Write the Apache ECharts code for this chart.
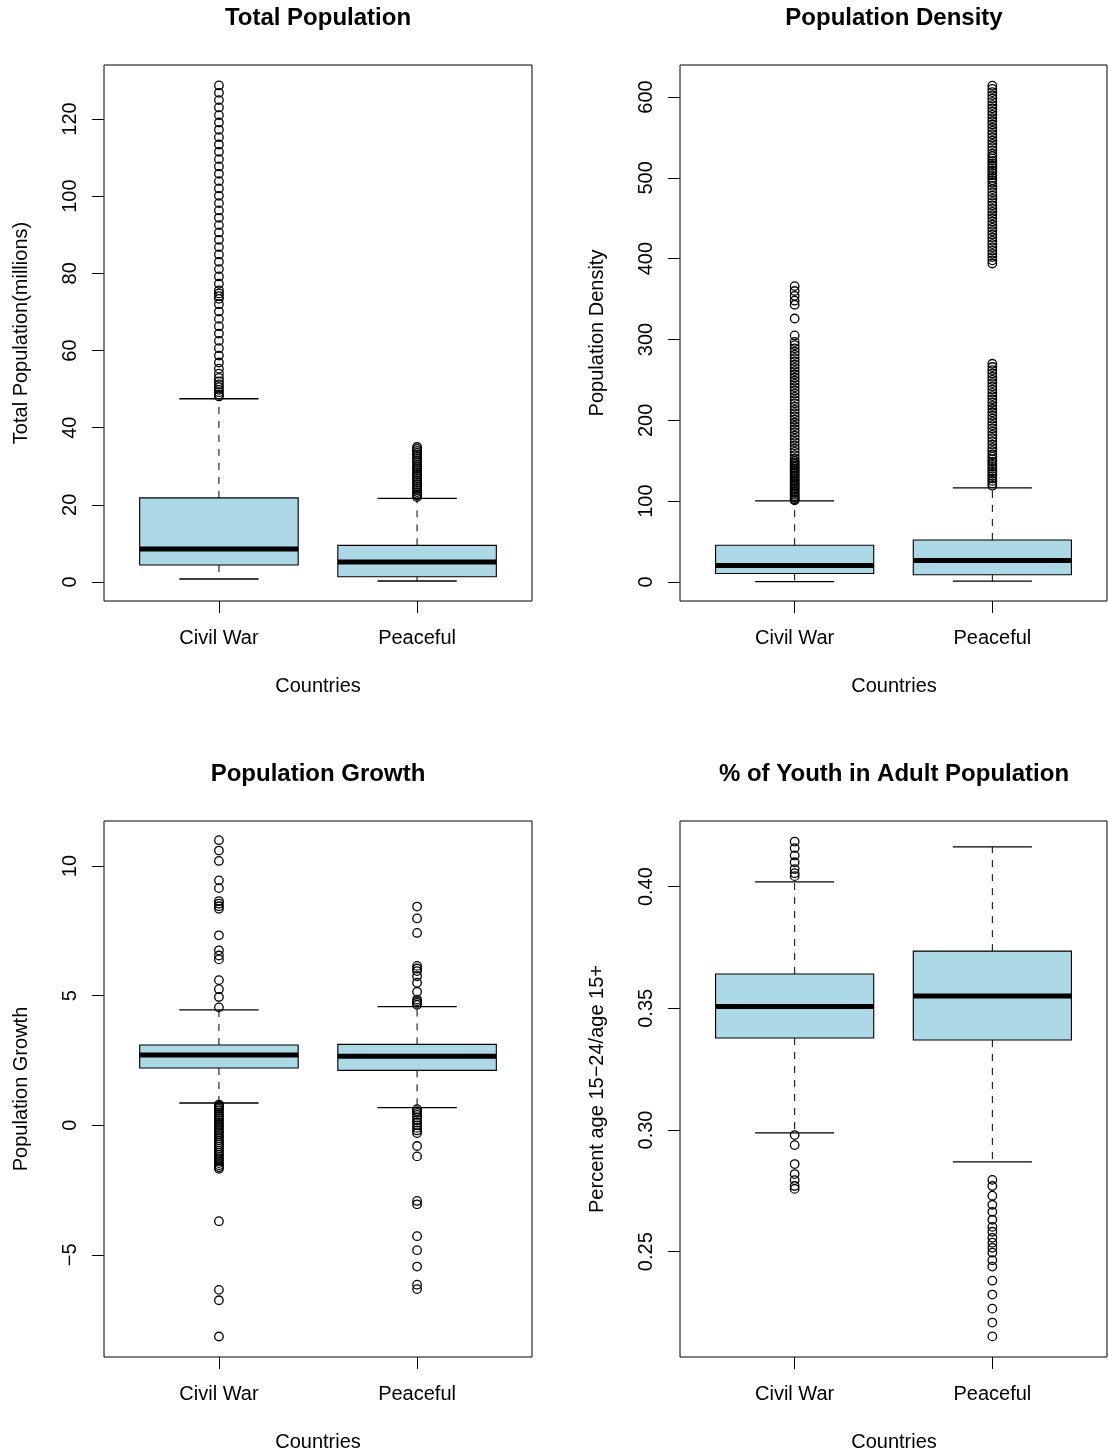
<!DOCTYPE html>
<html>
<head>
<meta charset="utf-8">
<script src="https://cdn.jsdelivr.net/npm/echarts@6/dist/echarts.min.js"></script>
<style>
html,body{margin:0;padding:0;background:#fff;}
#chart{width:1108px;height:1453px;}
</style>
</head>
<body>
<div id="chart"></div>
<script>
// ---------- data ----------
const categories = ['Civil War', 'Peaceful'];
const panelTitles = ['Total Population', 'Population Density', 'Population Growth', '% of Youth in Adult Population'];
const yNames = ['Total Population(millions)', 'Population Density', 'Population Growth', 'Percent age 15\u221224/age 15+'];
const xName = 'Countries';

// box stats: [lower whisker, Q1, median, Q3, upper whisker]
const popStats = [[0.78, 4.4, 8.55, 21.8, 47.5], [0.26, 1.35, 5.2, 9.5, 21.7]];
const popOutCivil = [128.7, 126.8, 124.9, 123.0, 121.0, 119.1, 117.2, 115.3, 113.4, 111.5, 109.6, 107.7, 105.8, 103.9, 102.0, 100.1, 98.2, 96.3, 94.4, 92.5, 90.6, 88.7, 86.8, 84.9, 83.0, 81.1, 79.2, 77.3, 75.6, 74.8, 74.1, 73.4, 72.0, 70.1, 68.2, 66.3, 64.4, 62.5, 60.6, 58.7, 56.9, 55.3, 54.0, 52.9, 52.0, 51.2, 50.5, 49.8, 49.2, 48.6, 48.1];
const popOutPeace = [35.0, 34.5, 34.0, 33.5, 33.0, 32.5, 32.0, 31.4, 30.9, 30.3, 29.8, 29.3, 28.8, 28.3, 27.8, 27.3, 26.8, 26.3, 25.8, 25.3, 24.8, 24.3, 23.8, 23.3, 22.8, 22.4, 22.0];
const popTicks = [0, 20, 40, 60, 80, 100, 120];

const denStats = [[0.4, 10.5, 20.5, 45.5, 100.3], [1.0, 9.0, 26.5, 52.0, 116.5]];
const denOutCivil = [366, 360, 354, 348, 343, 326, 305, 297, 293, 289, 285, 281, 277, 273, 269, 265, 261, 257, 253, 249, 245, 241, 237, 233, 229, 225, 221, 217, 213, 209, 205, 201, 197, 193, 189, 185, 181, 177, 173, 169, 165, 161, 157, 153, 150, 148, 146, 144, 142, 140, 138, 136, 134, 132, 130, 128, 126, 124, 122, 120, 118, 116, 114, 112, 110, 108, 106, 104, 102, 101];
const denOutPeace = [614, 610, 606, 602, 598, 594, 590, 586, 582, 578, 574, 570, 566, 562, 558, 554, 550, 546, 542, 538, 534, 530, 527, 524, 521, 518, 515, 512, 509, 506, 503, 500, 497, 494, 490, 486, 482, 478, 474, 470, 466, 462, 458, 454, 450, 446, 442, 438, 434, 430, 426, 422, 418, 414, 410, 406, 402, 398, 394,
  270, 266, 262, 258, 254, 250, 246, 242, 238, 234, 230, 226, 222, 218, 214, 210, 206, 202, 198, 194, 190, 186, 182, 178, 174, 170, 166, 162, 158, 155, 152, 149, 146, 143, 140, 137, 134, 131, 128, 125, 122, 119];
const denTicks = [0, 100, 200, 300, 400, 500, 600];

const grwStats = [[0.86, 2.21, 2.71, 3.10, 4.45], [0.68, 2.12, 2.66, 3.12, 4.58]];
const grwOutCivil = [11.0, 10.6, 10.2, 9.45, 9.15, 8.65, 8.55, 8.45, 8.35, 7.33, 6.75, 6.55, 6.4, 5.6, 5.25, 4.95, 4.55,
  0.80, 0.75, 0.70, 0.65, 0.58, 0.50, 0.42, 0.35, 0.28, 0.20, 0.12, 0.05, -0.02, -0.10, -0.18, -0.26, -0.34, -0.42, -0.50, -0.58, -0.66, -0.74, -0.82, -0.90, -0.98, -1.06, -1.14, -1.22, -1.30, -1.38, -1.46, -1.54, -1.62, -1.68, -3.7, -6.35, -6.75, -8.15];
const grwOutPeace = [8.44, 7.98, 7.42, 6.15, 6.05, 5.95, 5.75, 5.5, 5.15, 4.85, 4.78, 4.72, 4.65,
  0.62, 0.55, 0.48, 0.40, 0.30, 0.20, 0.10, 0.0, -0.10, -0.20, -0.30, -0.8, -1.2, -2.92, -3.05, -4.28, -4.82, -5.45, -6.15, -6.32];
const grwTicks = [-5, 0, 5, 10];

const ythStats = [[0.2988, 0.3378, 0.3507, 0.3641, 0.4019], [0.2869, 0.3370, 0.3551, 0.3735, 0.4163]];
const ythOutCivil = [0.4185, 0.4158, 0.4128, 0.4100, 0.4072, 0.4055, 0.4043, 0.2979, 0.2938, 0.2860, 0.2819, 0.2794, 0.2770, 0.2758];
const ythOutPeace = [0.2795, 0.2770, 0.2730, 0.2693, 0.2664, 0.2631, 0.2602, 0.2582, 0.2557, 0.2537, 0.2516, 0.2496, 0.2465, 0.2439, 0.2381, 0.2324, 0.2266, 0.2209, 0.2152];
const ythTicks = [0.25, 0.30, 0.35, 0.40];

// ---------- layout ----------
const FONT = 'Liberation Sans, Arial, Helvetica, sans-serif';
const panels = [
  {left: 104, top: 65, stats: popStats, outC: popOutCivil, outP: popOutPeace, ticks: popTicks, min: -4.92, max: 134.0, fmt: v => String(v)},
  {left: 680, top: 65, stats: denStats, outC: denOutCivil, outP: denOutPeace, ticks: denTicks, min: -23.5, max: 639.6, fmt: v => String(v)},
  {left: 104, top: 821, stats: grwStats, outC: grwOutCivil, outP: grwOutPeace, ticks: grwTicks, min: -8.94, max: 11.74, fmt: v => v < 0 ? '\u2212' + Math.abs(v) : String(v)},
  {left: 680, top: 821, stats: ythStats, outC: ythOutCivil, outP: ythOutPeace, ticks: ythTicks, min: 0.20674, max: 0.42695, fmt: v => v.toFixed(2)}
];
const GW = 428, GH = 536;

const grids = [], xAxes = [], yAxes = [], series = [], graphics = [];
panels.forEach((p, i) => {
  const w = (i % 2 === 1) ? GW - 1 : GW;
  grids.push({left: p.left, top: p.top, width: w, height: GH, show: true, borderColor: '#000', borderWidth: 1, backgroundColor: 'transparent', containLabel: false});
  xAxes.push({
    type: 'value', gridIndex: i, min: 0.42, max: 2.58, position: 'bottom',
    axisLine: {show: false, onZero: false}, splitLine: {show: false},
    axisTick: {show: true, inside: false, length: 12, customValues: [1, 2], lineStyle: {color: '#000', width: 1}},
    axisLabel: {show: true, customValues: [1, 2], margin: 27, color: '#000', fontSize: 20, fontFamily: FONT, formatter: v => categories[Math.round(v) - 1]}
  });
  yAxes.push({
    type: 'value', gridIndex: i, min: p.min, max: p.max, position: 'left',
    axisLine: {show: false, onZero: false}, splitLine: {show: false},
    axisTick: {show: true, inside: false, length: 12, customValues: p.ticks, lineStyle: {color: '#000', width: 1}},
    axisLabel: {show: true, customValues: p.ticks, rotate: 90, margin: 24, color: '#000', fontSize: 20, fontFamily: FONT, formatter: p.fmt}
  });
  const boxData = p.stats.map((s, k) => [k + 1].concat(s));
  series.push({
    type: 'custom', xAxisIndex: i, yAxisIndex: i, silent: true,
    encode: {x: 0, y: [1, 2, 3, 4, 5]},
    data: boxData,
    renderItem: function (params, api) {
      const x = api.value(0);
      const lo = api.value(1), q1 = api.value(2), md = api.value(3), q3 = api.value(4), hi = api.value(5);
      const c = api.coord([x, md]);
      const bl = api.coord([x - 0.4, q1]), br = api.coord([x + 0.4, q3]);
      const sl = api.coord([x - 0.2, lo])[0], sr = api.coord([x + 0.2, lo])[0];
      const yLo = api.coord([x, lo])[1], yHi = api.coord([x, hi])[1];
      const yQ1 = bl[1], yQ3 = br[1];
      return {
        type: 'group',
        children: [
          {type: 'line', shape: {x1: c[0], y1: yQ3, x2: c[0], y2: yHi}, style: {stroke: '#000', lineWidth: 1, lineDash: [7, 7]}},
          {type: 'line', shape: {x1: c[0], y1: yQ1, x2: c[0], y2: yLo}, style: {stroke: '#000', lineWidth: 1, lineDash: [7, 7]}},
          {type: 'line', shape: {x1: sl, y1: yHi, x2: sr, y2: yHi}, style: {stroke: '#000', lineWidth: 1.3}},
          {type: 'line', shape: {x1: sl, y1: yLo, x2: sr, y2: yLo}, style: {stroke: '#000', lineWidth: 1.3}},
          {type: 'rect', shape: {x: bl[0], y: yQ3, width: br[0] - bl[0], height: yQ1 - yQ3}, style: {fill: '#ADD8E6', stroke: '#000', lineWidth: 1.1}},
          {type: 'line', shape: {x1: bl[0], y1: c[1], x2: br[0], y2: c[1]}, style: {stroke: '#000', lineWidth: 5}}
        ]
      };
    }
  });
  const outData = p.outC.map(v => [1, v]).concat(p.outP.map(v => [2, v]));
  series.push({
    type: 'scatter', xAxisIndex: i, yAxisIndex: i, silent: true,
    symbol: 'circle', symbolSize: 8.5,
    itemStyle: {color: 'rgba(0,0,0,0)', borderColor: '#000', borderWidth: 1.3, opacity: 1},
    data: outData, z: 3
  });
  const cx = p.left + GW / 2;
  graphics.push({type: 'text', x: cx, y: p.top - 46.5, style: {text: panelTitles[i], fill: '#000', font: 'bold 24px ' + FONT, align: 'center', verticalAlign: 'middle'}});
  graphics.push({type: 'text', x: cx, y: p.top + GH + 85, style: {text: xName, fill: '#000', font: '20px ' + FONT, align: 'center', verticalAlign: 'middle'}});
  graphics.push({type: 'text', x: p.left - 83, y: p.top + GH / 2, rotation: Math.PI / 2, style: {text: yNames[i], fill: '#000', font: '20px ' + FONT, align: 'center', verticalAlign: 'middle'}});
});

const chart = echarts.init(document.getElementById('chart'), null, {renderer: 'canvas'});
chart.setOption({
  animation: false,
  backgroundColor: '#fff',
  grid: grids,
  xAxis: xAxes,
  yAxis: yAxes,
  series: series,
  graphic: graphics
});
</script>
</body>
</html>
